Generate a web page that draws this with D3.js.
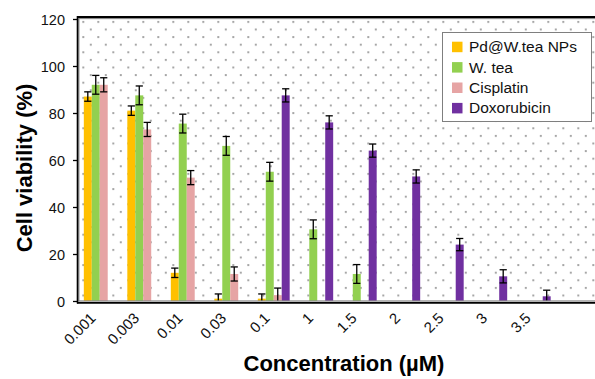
<!DOCTYPE html>
<html>
<head>
<meta charset="utf-8">
<script src="https://cdn.jsdelivr.net/npm/d3@7"></script>
<style>
  body { margin: 0; background: #fff; }
  text { font-family: "Liberation Sans", Arial, sans-serif; }
</style>
</head>
<body>
<div id="chart"></div>
<script>
// concentrations (uM)
const categories = ["0.001", "0.003", "0.01", "0.03", "0.1", "1", "1.5", "2", "2.5", "3", "3.5"];
const seriesNames = ["Pd@W.tea NPs", "W. tea", "Cisplatin", "Doxorubicin"];
const seriesColors = ["#FFC000", "#92D050", "#E6A4A4", "#7030A0"];

// cell viability (%), null = not tested
const pdValues = [87, 81, 12, 1, 1, null, null, null, null, null, null];
const pdErrors = [2, 2, 2, 2, 2, null, null, null, null, null, null];
const wteaValues = [92, 87.5, 75.5, 66, 55, 30.5, 11.5, null, null, null, null];
const wteaErrors = [4, 4, 4, 4, 4, 4, 4, null, null, null, null];
const cisValues = [92, 73, 52.5, 11.5, 2.5, null, null, null, null, null, null];
const cisErrors = [3, 3, 3, 3, 3, null, null, null, null, null, null];
const doxValues = [null, null, null, null, 87.5, 76, 64, 53, 24, 10.5, 2];
const doxErrors = [null, null, null, null, 2.8, 2.8, 2.8, 2.8, 2.6, 2.8, 2.6];

const yTicks = [0, 20, 40, 60, 80, 100, 120];

const allValues = [pdValues, wteaValues, cisValues, doxValues];
const allErrors = [pdErrors, wteaErrors, cisErrors, doxErrors];

const width = 595, height = 379;
const mLeft = 78, mTop = 19, mBottom = 301, mRight = 600;

const svg = d3.select("#chart").append("svg")
    .attr("width", width)
    .attr("height", height);

// dotted fill of the plot area
const pat = svg.append("defs").append("pattern")
    .attr("id", "dots")
    .attr("patternUnits", "userSpaceOnUse")
    .attr("x", mLeft).attr("y", mTop)
    .attr("width", 15).attr("height", 15.2);
pat.append("rect").attr("x", 4.3).attr("y", 1.9).attr("width", 2).attr("height", 2).attr("fill", "#a6a6a6");
pat.append("rect").attr("x", 11.8).attr("y", 9.5).attr("width", 2).attr("height", 2).attr("fill", "#a6a6a6");

svg.append("rect")
    .attr("x", mLeft).attr("y", mTop)
    .attr("width", mRight - mLeft).attr("height", mBottom - mTop)
    .attr("fill", "url(#dots)");

const y = d3.scaleLinear().domain([0, 120]).range([mBottom, mTop]);

// 12 slots across the frame, the last one is empty (cut off on the right)
const x0 = d3.scaleBand()
    .domain(categories)
    .range([mLeft, mLeft + (mRight - mLeft) * categories.length / 12]);

const x1 = d3.scaleBand()
    .domain(seriesNames)
    .range([0, x0.bandwidth()])
    .paddingOuter(0.73);

// bars
const bars = [];
categories.forEach((c, i) => {
  seriesNames.forEach((s, j) => {
    const v = allValues[j][i];
    if (v != null) bars.push({ cat: c, series: s, idx: j, value: v, err: allErrors[j][i] });
  });
});

svg.selectAll(".bar")
    .data(bars)
    .enter().append("rect")
    .attr("class", "bar")
    .attr("x", d => x0(d.cat) + x1(d.series))
    .attr("y", d => y(d.value))
    .attr("width", x1.bandwidth())
    .attr("height", d => y(0) - y(d.value))
    .attr("fill", d => seriesColors[d.idx]);

// error bars
const eb = svg.selectAll(".err")
    .data(bars.filter(d => d.err != null))
    .enter().append("g")
    .attr("class", "err")
    .attr("stroke", "#000")
    .attr("stroke-width", 1.3);

const cx = d => x0(d.cat) + x1(d.series) + x1.bandwidth() / 2;
const capW = 3.6;
eb.append("line")
    .attr("x1", cx).attr("x2", cx)
    .attr("y1", d => y(d.value + d.err))
    .attr("y2", d => Math.min(y(d.value - d.err), y(0)));
eb.append("line")
    .attr("x1", d => cx(d) - capW).attr("x2", d => cx(d) + capW)
    .attr("y1", d => y(d.value + d.err)).attr("y2", d => y(d.value + d.err));
eb.filter(d => d.value - d.err > 0).append("line")
    .attr("x1", d => cx(d) - capW).attr("x2", d => cx(d) + capW)
    .attr("y1", d => y(d.value - d.err)).attr("y2", d => y(d.value - d.err));

// frame
svg.append("rect")
    .attr("x", mLeft + 0.8).attr("y", mTop - 0.5)
    .attr("width", mRight - mLeft).attr("height", mBottom - mTop + 0.5)
    .attr("fill", "none").attr("stroke", "#8c8c8c").attr("stroke-width", 1.3);
svg.append("line").attr("x1", mLeft - 1).attr("x2", mRight).attr("y1", mTop - 2).attr("y2", mTop - 2)
    .attr("stroke", "#000").attr("stroke-width", 2);
svg.append("line").attr("x1", mLeft - 0.5).attr("x2", mLeft - 0.5).attr("y1", mTop - 3).attr("y2", mBottom + 2.5)
    .attr("stroke", "#000").attr("stroke-width", 1.6);
svg.append("line").attr("x1", mLeft - 1).attr("x2", mRight).attr("y1", mBottom + 1.8).attr("y2", mBottom + 1.8)
    .attr("stroke", "#000").attr("stroke-width", 1.8);

// y axis
const yAxis = svg.append("g")
    .attr("transform", `translate(${mLeft - 1},0)`)
    .call(d3.axisLeft(y).tickValues(yTicks).tickSize(4).tickPadding(8));
yAxis.select(".domain").remove();
yAxis.selectAll(".tick line").attr("stroke", "#000").attr("stroke-width", 1.3);
yAxis.selectAll(".tick text")
    .attr("font-size", "14.5px")
    .attr("fill", "#111")
    .attr("dy", "0.4em")
    .style("font-family", "'Liberation Sans', Arial, sans-serif");

// x tick labels
svg.selectAll(".xlab")
    .data(categories)
    .enter().append("text")
    .attr("class", "xlab")
    .attr("text-anchor", "end")
    .attr("font-size", "15px")
    .attr("fill", "#111")
    .attr("transform", d => `translate(${x0(d) + x0.bandwidth() / 2 - 3},${mBottom + 18}) rotate(-45)`)
    .text(d => d);

// axis titles
svg.append("text")
    .attr("text-anchor", "middle")
    .attr("font-size", "22px")
    .attr("font-weight", "bold")
    .attr("transform", `translate(32,${(mTop + mBottom) / 2 + 8}) rotate(-90)`)
    .text("Cell viability (%)");

svg.append("text")
    .attr("text-anchor", "middle")
    .attr("font-size", "22px")
    .attr("font-weight", "bold")
    .attr("x", 344).attr("y", 371)
    .text("Concentration (\u00b5M)");

// legend
const lg = svg.append("g").attr("transform", "translate(442,32)");
lg.append("rect")
    .attr("x", 0.5).attr("y", 0.5)
    .attr("width", 149).attr("height", 89)
    .attr("fill", "#fff").attr("stroke", "#7f7f7f").attr("stroke-width", 1);
const item = lg.selectAll(".li")
    .data(seriesNames)
    .enter().append("g")
    .attr("transform", (d, i) => `translate(0,${14.7 + i * 20.4})`);
item.append("rect")
    .attr("x", 10).attr("y", -5)
    .attr("width", 10.5).attr("height", 10.5)
    .attr("fill", (d, i) => seriesColors[i]);
item.append("text")
    .attr("x", 27).attr("y", 0)
    .attr("dy", "0.36em")
    .attr("font-size", "15.5px")
    .attr("fill", "#111")
    .text(d => d);
</script>
</body>
</html>
